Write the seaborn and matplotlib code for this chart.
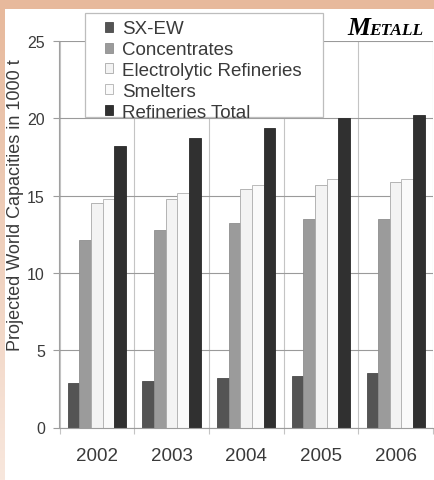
import numpy as np
import pandas as pd
import matplotlib
matplotlib.use("Agg")
import matplotlib.pyplot as plt
from matplotlib.patches import Rectangle, Patch
import seaborn as sns

# Projected world copper capacities (1000 t)
years = ["2002", "2003", "2004", "2005", "2006"]
series = ["SX-EW", "Concentrates", "Electrolytic Refineries", "Smelters", "Refineries Total"]
sx_ew = [2.9, 3.0, 3.2, 3.35, 3.5]
concentrates = [12.1, 12.8, 13.2, 13.5, 13.5]
electrolytic = [14.55, 14.8, 15.4, 15.7, 15.9]
smelters = [14.8, 15.2, 15.7, 16.1, 16.1]
refineries_total = [18.2, 18.7, 19.4, 20.05, 20.2]
y_ticks = [0, 5, 10, 15, 20, 25]

colors = ["#545454", "#9b9b9b", "#f3f3f3", "#fafafa", "#303030"]
edges = ["#4a4a4a", "#8e8e8e", "#a8a8a8", "#b0b0b0", "#2a2a2a"]

values = [sx_ew, concentrates, electrolytic, smelters, refineries_total]
df = pd.DataFrame(
    [(y, s, v) for s, vals in zip(series, values) for y, v in zip(years, vals)],
    columns=["year", "series", "value"],
)

sns.set_theme(style="white")
plt.rcParams["font.family"] = ["Liberation Sans", "DejaVu Sans"]
text_color = "#3a3a3a"

W, H = 435, 481
fig = plt.figure(figsize=(W / 100, H / 100), dpi=100)
fig.patch.set_facecolor("white")

# peach frame strips along the top and left edges
top_ax = fig.add_axes([0, 1 - 10 / H, 1, 10 / H])
top_ax.imshow(np.ones((1, 2, 3)) * np.array([231, 185, 156]) / 255, aspect="auto")
top_ax.axis("off")
grad = np.linspace(0, 1, 256)[:, None, None]
c_top = np.array([231, 185, 156]) / 255
c_bot = np.array([248, 231, 221]) / 255
left_img = c_top * (1 - grad) + c_bot * grad
left_ax = fig.add_axes([0, 0, 5 / W, 1 - 10 / H])
left_ax.imshow(left_img, aspect="auto")
left_ax.axis("off")

x0, x1 = 59.5, 433.0
y0, y1 = 428.5, 42.0
ax = fig.add_axes([x0 / W, 1 - y0 / H, (x1 - x0) / W, (y0 - y1) / H])

sns.barplot(
    data=df, x="year", y="value", hue="series", hue_order=series,
    palette=colors, width=0.78, saturation=1, ax=ax, legend=False,
)
for i, cont in enumerate(ax.containers):
    for bar in cont:
        bar.set_edgecolor(edges[i])
        bar.set_linewidth(0.6)

ax.set_xlim(-0.5, len(years) - 0.5)
ax.set_ylim(0, 25)
ax.set_yticks(y_ticks)
ax.set_xlabel("")
ax.set_ylabel("")

ax.set_xticks(np.arange(len(years) + 1) - 0.5, minor=True)
ax.grid(axis="y", color="#9a9a9a", linewidth=0.8)
ax.grid(axis="x", which="minor", color="#c4c4c4", linewidth=0.8)
ax.set_axisbelow(True)

ax.tick_params(axis="y", which="major", left=True, length=4.5, width=0.8,
               color="#9c9c9c", labelsize=11.5, labelcolor=text_color, pad=6)
ax.tick_params(axis="x", which="major", bottom=False, labelsize=13.5,
               labelcolor=text_color, pad=8)
ax.tick_params(axis="x", which="minor", bottom=True, length=4, width=0.8,
               color="#c4c4c4")

for side in ["top", "right"]:
    ax.spines[side].set_visible(False)
ax.spines["left"].set_color("#a0a0a0")
ax.spines["bottom"].set_color("#9c9c9c")
ax.spines["left"].set_linewidth(0.8)
ax.spines["bottom"].set_linewidth(0.8)

# y-axis title placed on the figure
fig.text(16 / W, 1 - 205 / H, "Projected World Capacities in 1000 t", rotation=90,
         fontsize=13, color=text_color, ha="center", va="center", zorder=6)

# legend box drawn on the figure, above the plot
lx0, lx1, ly0, ly1 = 85, 323, 14, 118
fig.patches.append(Rectangle((lx0 / W, 1 - ly1 / H), (lx1 - lx0) / W, (ly1 - ly0) / H,
                             transform=fig.transFigure, facecolor="white",
                             edgecolor="#bdbdbd", linewidth=0.9, zorder=4))
handles = [Patch(facecolor=c, edgecolor=e, linewidth=0.6) for c, e in zip(colors, edges)]
leg = fig.legend(handles, series, loc="upper left",
                 bbox_to_anchor=(105 / W, 1 - 21.5 / H), frameon=False,
                 fontsize=13.5, handlelength=0.45, handleheight=0.45,
                 handletextpad=0.45, labelspacing=0.2, borderpad=0,
                 borderaxespad=0)
leg.set_zorder(5)
for t in leg.get_texts():
    t.set_color(text_color)

# magazine mark in the top right corner
fig.text(347 / W, 1 - 35 / H, "M", fontsize=18.5, fontweight="bold", fontstyle="italic",
         family="Liberation Serif", color="black", ha="left", va="baseline")
fig.text(369 / W, 1 - 35 / H, "ETALL", fontsize=12.5, fontweight="bold", fontstyle="italic",
         family="Liberation Serif", color="black", ha="left", va="baseline")

fig.savefig("out.png", dpi=100)
